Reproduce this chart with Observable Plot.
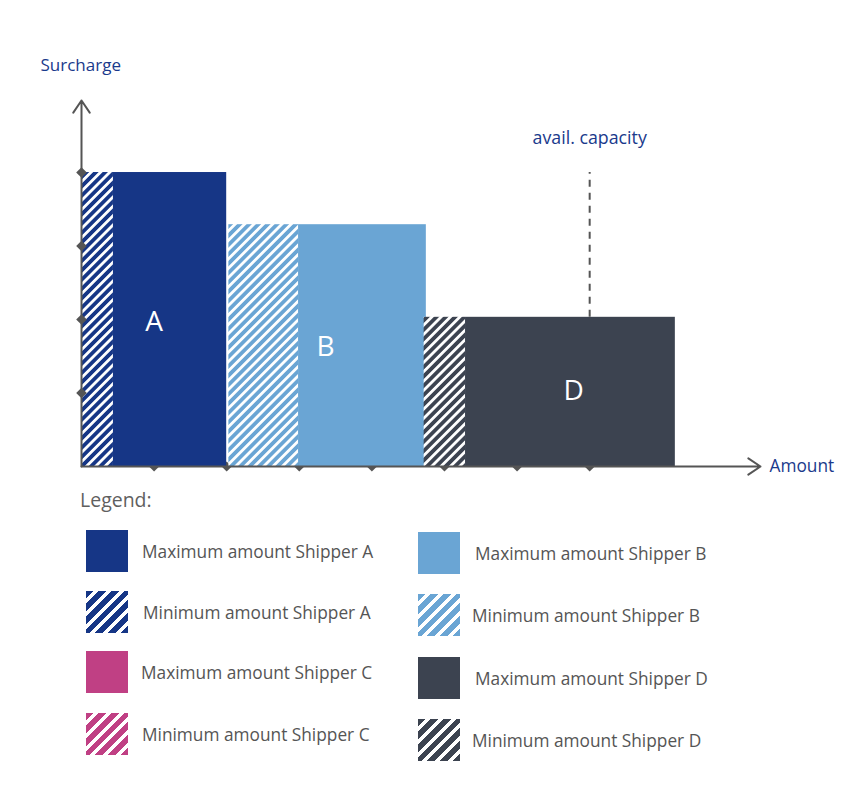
<!DOCTYPE html>
<html>
<head>
<meta charset="utf-8">
<script src="https://cdn.jsdelivr.net/npm/d3@7"></script>
<script src="https://cdn.jsdelivr.net/npm/@observablehq/plot@0.6"></script>
<style>
  html, body { margin: 0; padding: 0; background: #fff; }
  body { width: 860px; height: 808px; position: relative; font-family: "Open Sans", "Noto Sans", sans-serif; }
  #chart svg { display: block; }
  #legend { position: absolute; left: 0; top: 485px; width: 860px; height: 323px; }
  #legend .title { position: absolute; left: 80px; top: 1px; font-size: 19.5px; color: #5f5f5f; }
  .item { position: absolute; display: flex; align-items: center; }
  .sw { width: 42px; height: 42px; flex: none; }
  .lbl { font-size: 17.3px; color: #555; white-space: nowrap; }
</style>
</head>
<body>
<div id="chart"></div>
<div id="legend"><div class="title">Legend:</div></div>
<script>
// ---- data ----
const shippers = ["A", "B", "C", "D"];
const shipperColors = ["#163686", "#6aa5d4", "#c04084", "#3c4350"];
// bars: shipper, part (min = hatched, max = solid), amount range, surcharge
const barShipper = ["A", "A", "B", "B", "D", "D"];
const barPart    = ["min", "max", "min", "max", "min", "max"];
const barAmountStart = [0, 0.44, 2.03, 2.99, 4.72, 5.29];
const barAmountEnd   = [0.44, 2.0, 2.99, 4.75, 5.29, 8.18];
const barSurcharge   = [4.0, 4.0, 3.29, 3.29, 2.03, 2.03];
// bar labels
const labelText = ["A", "B", "D"];
const labelAmount = [1.0, 3.36, 6.78];
const labelSurcharge = [1.97, 1.62, 1.03];
// axis ticks
const xTicks = [1, 2, 3, 4, 5, 6, 7];
const yTicks = [1, 2, 3, 4];
// available capacity
const capacityAmount = 7;
const capacityLabel = "avail. capacity";
const capacityLabelSurcharge = 4.46;
// axis extents & labels
const xMax = 9.353, yMax = 4.98;
const xLabel = "Amount", yLabel = "Surcharge";
// legend entries
const legendLeft = [
  {shipper: "A", part: "max", text: "Maximum amount Shipper A"},
  {shipper: "A", part: "min", text: "Minimum amount Shipper A"},
  {shipper: "C", part: "max", text: "Maximum amount Shipper C"},
  {shipper: "C", part: "min", text: "Minimum amount Shipper C"}
];
const legendRight = [
  {shipper: "B", part: "max", text: "Maximum amount Shipper B"},
  {shipper: "B", part: "min", text: "Minimum amount Shipper B"},
  {shipper: "D", part: "max", text: "Maximum amount Shipper D"},
  {shipper: "D", part: "min", text: "Minimum amount Shipper D"}
];

const colorOf = s => shipperColors[shippers.indexOf(s)];
const bars = barShipper.map((s, i) => ({
  shipper: s, part: barPart[i],
  x1: barAmountStart[i], x2: barAmountEnd[i], y: barSurcharge[i],
  fill: barPart[i] === "max" ? colorOf(s) : `url(#hatch-${s})`
}));
const labels = labelText.map((t, i) => ({text: t, x: labelAmount[i], y: labelSurcharge[i]}));

const axisColor = "#555";
const navy = "#1a3a8c";

const plot = Plot.plot({
  width: 860,
  height: 485,
  marginLeft: 81,
  marginRight: 100,
  marginTop: 100,
  marginBottom: 19,
  style: {fontFamily: "'Open Sans', sans-serif", background: "white"},
  x: {domain: [0, xMax], axis: null},
  y: {domain: [0, yMax], axis: null},
  marks: [
    Plot.dot(xTicks, {x: d => d, y: 0, symbol: "diamond2", r: 4.6, fill: axisColor, stroke: "none"}),
    Plot.rectY(bars, {x1: "x1", x2: "x2", y1: 0, y2: "y", fill: d => d.fill}),
    Plot.ruleX([capacityAmount], {y1: barSurcharge[5], y2: barSurcharge[0], stroke: axisColor, strokeWidth: 2, strokeDasharray: "7,6"}),
    Plot.text([capacityLabel], {x: capacityAmount, y: capacityLabelSurcharge, text: d => d, fill: navy, fontSize: 17.8}),
    Plot.text(labels, {x: "x", y: "y", text: "text", fill: "white", fontSize: 28}),
    Plot.arrow([0], {x1: 0, y1: 0, x2: 0, y2: yMax, stroke: axisColor, strokeWidth: 2, headLength: 11, headAngle: 68}),
    Plot.arrow([0], {x1: 0, y1: 0, x2: xMax, y2: 0, stroke: axisColor, strokeWidth: 2, headLength: 11, headAngle: 68}),
    Plot.dot(yTicks, {x: 0, y: d => d, symbol: "diamond2", r: 4.8, fill: axisColor, stroke: "none"}),
    Plot.text([yLabel], {frameAnchor: "top-left", lineAnchor: "middle", text: d => d, dx: -41, dy: -35, textAnchor: "start", fill: navy, fontSize: 17}),
    Plot.text([xLabel], {frameAnchor: "bottom-right", lineAnchor: "middle", text: d => d, dx: 9, dy: 0, textAnchor: "start", fill: navy, fontSize: 17.3})
  ]
});

// hatch patterns
const defs = d3.select(plot).insert("defs", ":first-child");
shippers.forEach((s, i) => {
  const p = defs.append("pattern")
    .attr("id", `hatch-${s}`)
    .attr("patternUnits", "userSpaceOnUse")
    .attr("width", 6.6).attr("height", 6.6)
    .attr("patternTransform", "rotate(45)");
  p.append("rect").attr("width", 6.6).attr("height", 6.6).attr("fill", shipperColors[i]);
  p.append("rect").attr("width", 2.8).attr("height", 6.6).attr("fill", "white");
});

document.getElementById("chart").appendChild(plot);

// legend
const legend = document.getElementById("legend");
function addItems(items, tops, swLeft, textLefts) {
  items.forEach((it, i) => {
    const div = document.createElement("div");
    div.className = "item";
    div.style.left = swLeft + "px";
    div.style.top = tops[i] + "px";
    const sw = document.createElement("div");
    sw.className = "sw";
    const c = colorOf(it.shipper);
    sw.style.background = it.part === "max" ? c
      : `repeating-linear-gradient(135deg, ${c} 0px, ${c} 5.5px, #fff 5.5px, #fff 9px)`;
    const lbl = document.createElement("div");
    lbl.className = "lbl";
    lbl.textContent = it.text;
    lbl.style.marginLeft = (textLefts[i] - swLeft - 42) + "px";
    div.appendChild(sw); div.appendChild(lbl);
    legend.appendChild(div);
  });
}
addItems(legendLeft, [45, 106, 166, 228], 86, [142, 143, 141, 142]);
addItems(legendRight, [47, 109, 172, 234], 418, [475, 472, 475, 472]);
</script>
</body>
</html>
